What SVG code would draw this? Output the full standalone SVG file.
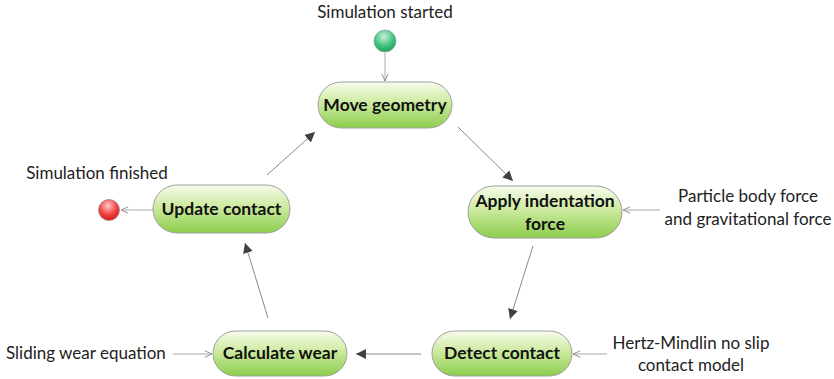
<svg xmlns="http://www.w3.org/2000/svg" width="834" height="379" viewBox="0 0 834 379">
<defs>
<linearGradient id="gNode" x1="0" y1="0" x2="0" y2="1">
<stop offset="0" stop-color="#f7fcec"/>
<stop offset="0.45" stop-color="#cdeaa0"/>
<stop offset="1" stop-color="#8ccd4c"/>
</linearGradient>
<radialGradient id="gStart" cx="0.45" cy="0.3" r="0.75">
<stop offset="0" stop-color="#c8f0d8"/>
<stop offset="0.6" stop-color="#3cc07a"/>
<stop offset="1" stop-color="#1f9a55"/>
</radialGradient>
<radialGradient id="gEnd" cx="0.45" cy="0.3" r="0.75">
<stop offset="0" stop-color="#ffc8c8"/>
<stop offset="0.6" stop-color="#f03a3a"/>
<stop offset="1" stop-color="#c81818"/>
</radialGradient>
<marker id="mFill" viewBox="0 0 10 10" refX="10" refY="5" markerWidth="10" markerHeight="10" markerUnits="userSpaceOnUse" orient="auto">
<path d="M0,0 L10,5 L0,10 Z" fill="#404040"/>
</marker>
<marker id="mOpen" viewBox="0 0 10 10" refX="10" refY="5" markerWidth="8" markerHeight="8" markerUnits="userSpaceOnUse" orient="auto">
<path d="M1,1 L10,5 L1,9" fill="none" stroke="#909090" stroke-width="1.2"/>
</marker>
</defs>
<style>
.node{fill:url(#gNode);stroke:#a0a0a0;stroke-width:1}
.nt{font-family:Lato,"Open Sans","Liberation Sans",sans-serif;font-weight:bold;font-size:17.5px;fill:#111;text-anchor:middle}
.lab{font-family:Lato,"Open Sans","Liberation Sans",sans-serif;font-size:17px;fill:#222}
.cyc{stroke:#8a8a8a;stroke-width:1;fill:none;marker-end:url(#mFill)}
.inp{stroke:#a8a8a8;stroke-width:1;fill:none;marker-end:url(#mOpen)}
</style>
<rect width="834" height="379" fill="#ffffff"/>
<g id="connectors">
<line class="inp" x1="385" y1="53" x2="385" y2="81"/>
<line class="cyc" x1="458" y1="127" x2="513" y2="181"/>
<line class="cyc" x1="533" y1="246" x2="510" y2="319"/>
<line class="cyc" x1="421" y1="354" x2="356" y2="354"/>
<line class="cyc" x1="268" y1="318" x2="245" y2="243"/>
<line class="cyc" x1="267" y1="175" x2="315" y2="132"/>
<line class="inp" x1="153" y1="210" x2="121" y2="210"/>
<line class="inp" x1="660" y1="210" x2="623" y2="210"/>
<line class="inp" x1="607" y1="354" x2="573" y2="354"/>
<line class="inp" x1="173" y1="354" x2="212" y2="354"/>
</g>
<g id="start">
<circle cx="385" cy="41" r="11" fill="url(#gStart)" stroke="#8aa" stroke-width="0.8"/>
<text class="lab" x="385" y="18" text-anchor="middle">Simulation started</text>
</g>
<g id="end">
<circle cx="109" cy="210" r="10.5" fill="url(#gEnd)" stroke="#a88" stroke-width="0.8"/>
<text class="lab" x="97" y="179" text-anchor="middle">Simulation finished</text>
</g>
<g id="move-geometry">
<rect class="node" x="318" y="82" width="134" height="46" rx="23"/>
<text class="nt" x="385" y="111">Move geometry</text>
</g>
<g id="apply-indentation-force">
<rect class="node" x="468" y="186" width="154" height="52" rx="26"/>
<text class="nt" x="545" y="207">Apply indentation</text>
<text class="nt" x="545" y="230">force</text>
</g>
<g id="detect-contact">
<rect class="node" x="432" y="331" width="140" height="45" rx="22.5"/>
<text class="nt" x="502" y="359">Detect contact</text>
</g>
<g id="calculate-wear">
<rect class="node" x="213" y="331" width="134" height="45" rx="22.5"/>
<text class="nt" x="280" y="359">Calculate wear</text>
</g>
<g id="update-contact">
<rect class="node" x="153" y="185" width="137" height="48" rx="24"/>
<text class="nt" x="221.5" y="215">Update contact</text>
</g>
<g id="particle-force">
<text class="lab" x="748" y="202" text-anchor="middle">Particle body force</text>
<text class="lab" x="748" y="225" text-anchor="middle">and gravitational force</text>
</g>
<g id="hertz-mindlin">
<text class="lab" x="691" y="349" text-anchor="middle">Hertz-Mindlin no slip</text>
<text class="lab" x="691" y="371" text-anchor="middle">contact model</text>
</g>
<g id="sliding-wear">
<text class="lab" x="6" y="359">Sliding wear equation</text>
</g>
</svg>
